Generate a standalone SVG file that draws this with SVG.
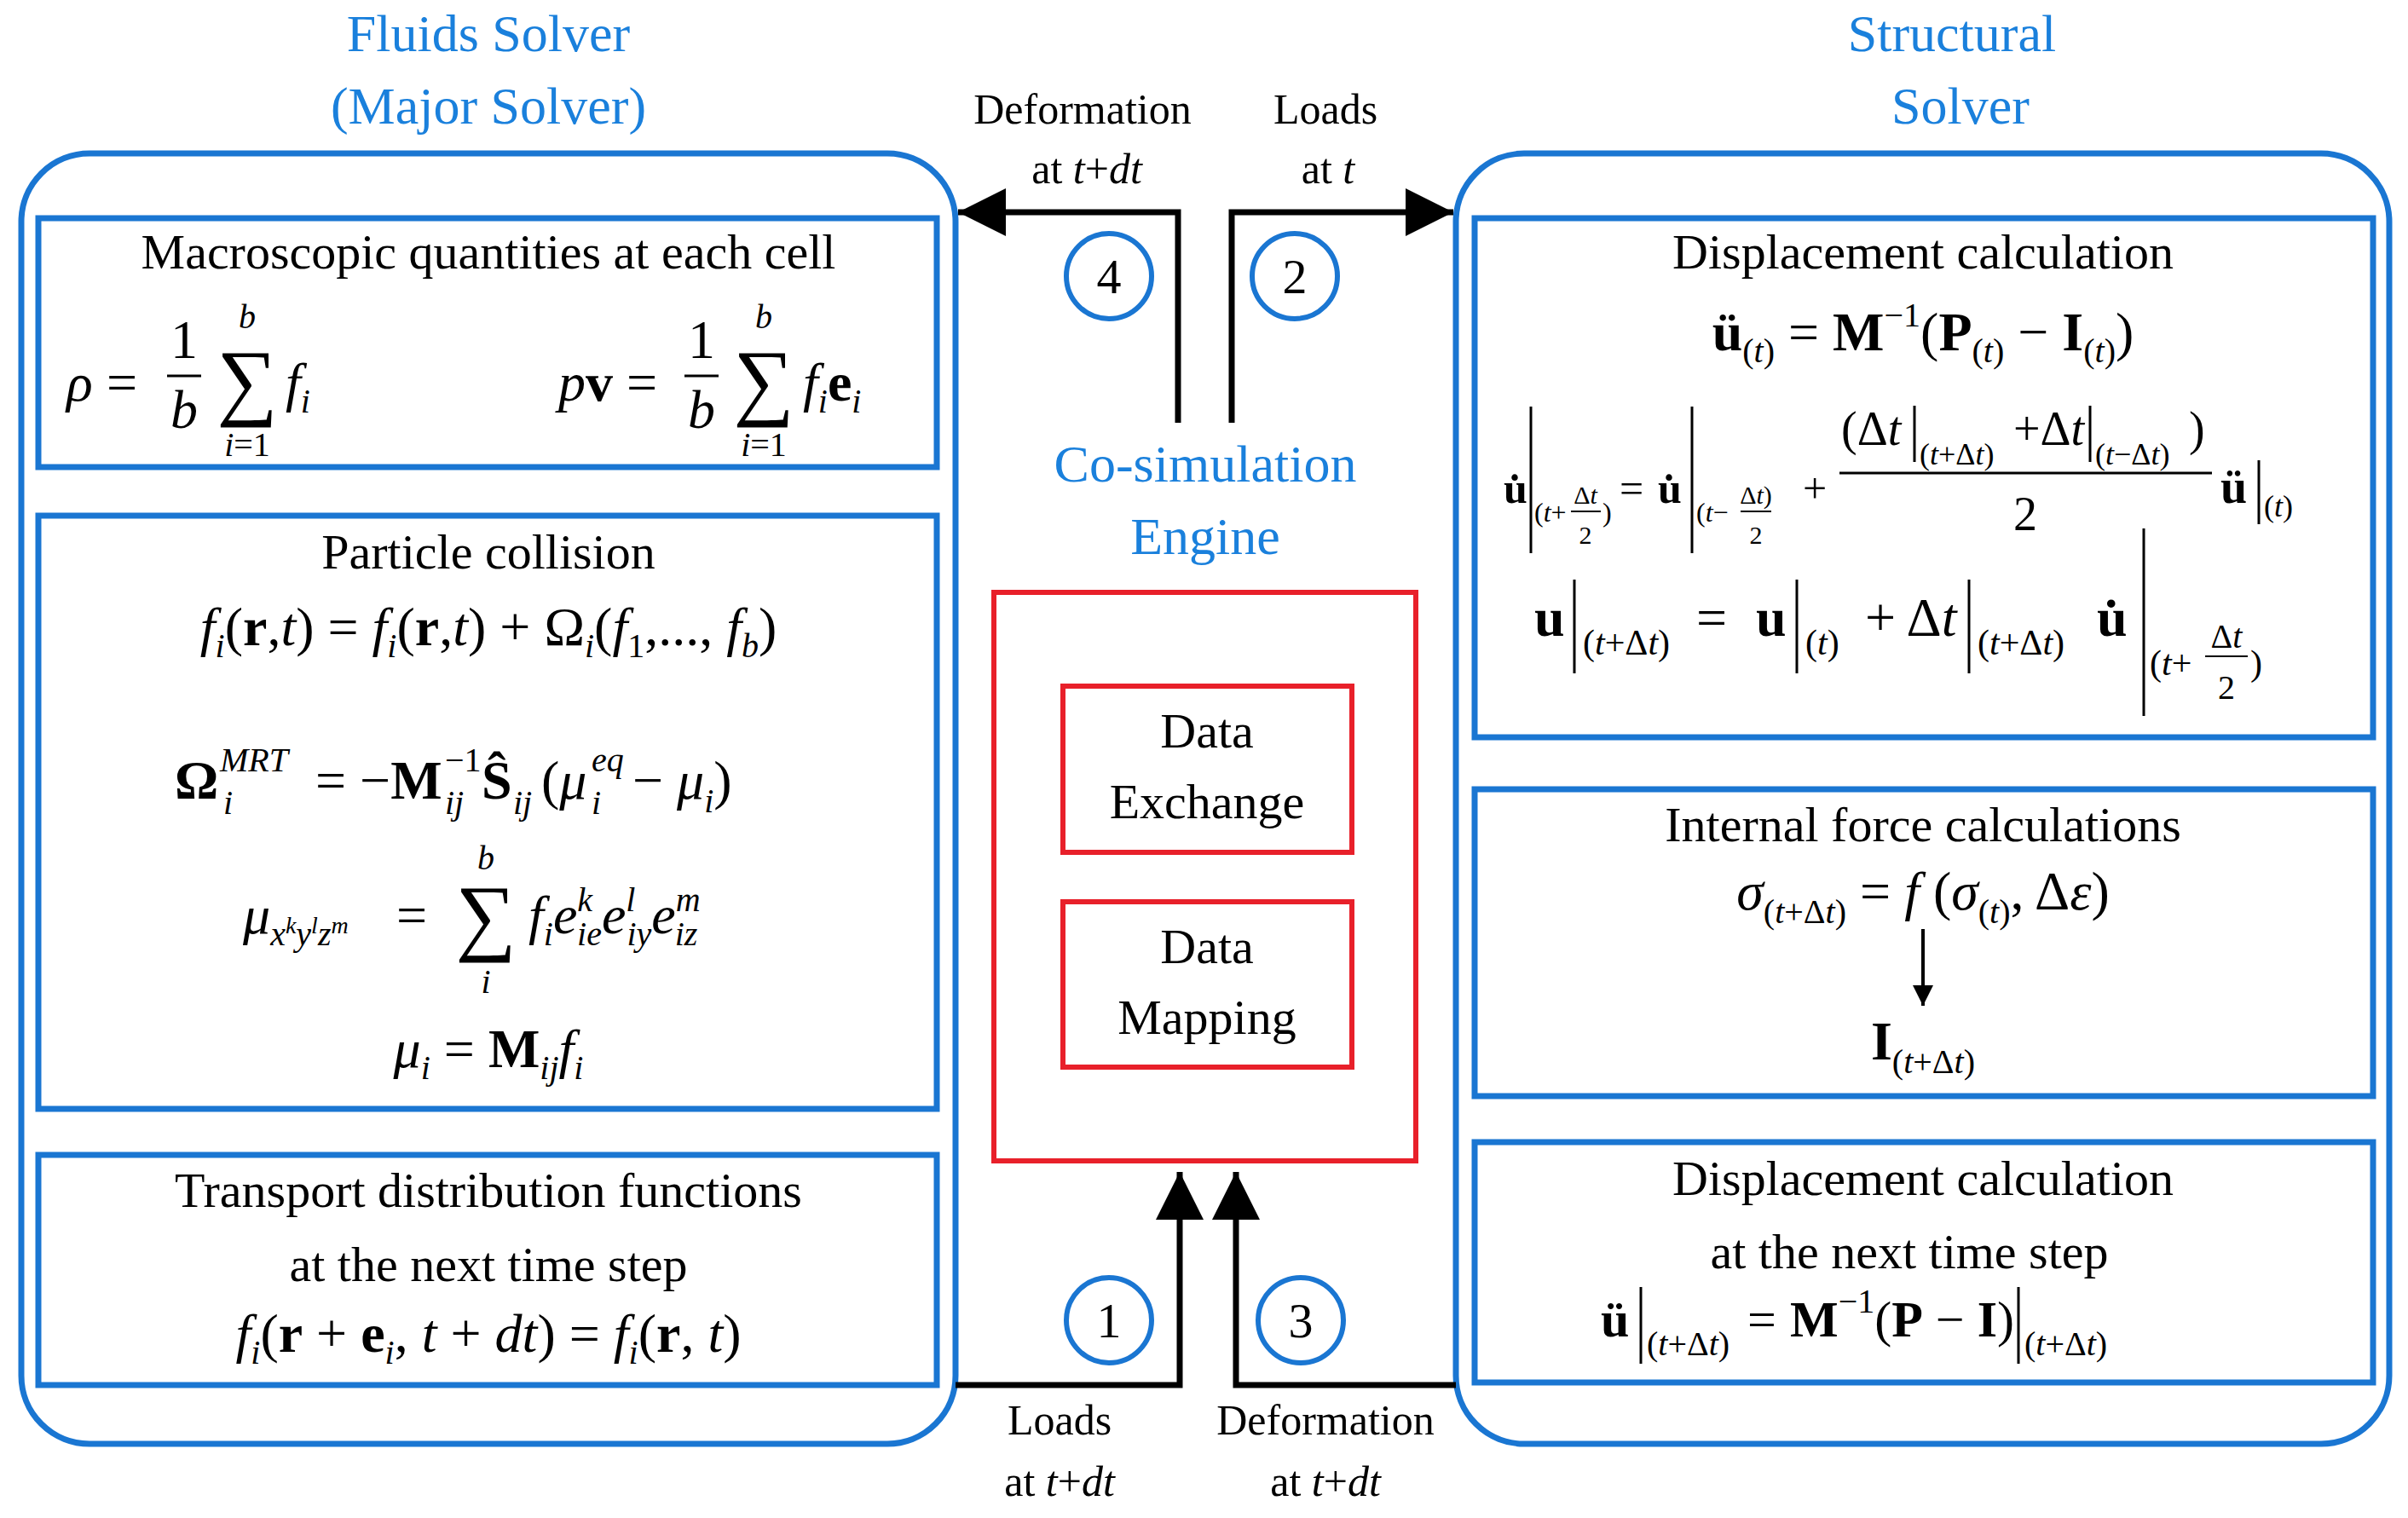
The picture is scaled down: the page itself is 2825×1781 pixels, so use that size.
<svg xmlns="http://www.w3.org/2000/svg" width="2825" height="1781" viewBox="0 0 2825 1781">
<defs>
<style>
.ttl{font-family:"Liberation Serif",serif;font-size:62px;fill:#1a80dc;text-anchor:middle}
.t{font-family:"Liberation Serif",serif;font-size:58px;fill:#000;text-anchor:middle}
.lb{font-family:"Liberation Serif",serif;font-size:50px;fill:#000;text-anchor:middle}
.m{font-family:"Liberation Serif",serif;font-size:64px;fill:#000}
.mc{font-family:"Liberation Serif",serif;font-size:64px;fill:#000;text-anchor:middle}
.s{font-size:40px}
.i{font-style:italic}
.b{font-weight:bold}
.outer{fill:none;stroke:#1a76d2;stroke-width:7}
.inner{fill:none;stroke:#1a76d2;stroke-width:7}
.red{fill:none;stroke:#e8202a;stroke-width:6}
.circ{fill:#fff;stroke:#1a76d2;stroke-width:6}
.wire{fill:none;stroke:#000;stroke-width:7}
.bar{stroke:#000;stroke-width:3}
</style>
<marker id="ah" viewBox="0 0 10 10" refX="10" refY="5" markerWidth="13" markerHeight="8" markerUnits="strokeWidth" orient="auto"><path d="M0,0 L10,5 L0,10 z" fill="#000"/></marker>
<marker id="ah2" viewBox="0 0 10 10" refX="10" refY="5" markerWidth="8" markerHeight="6" markerUnits="strokeWidth" orient="auto"><path d="M0,0 L10,5 L0,10 z" fill="#000"/></marker>
</defs>
<rect width="2825" height="1781" fill="#fff"/>

<text class="ttl" x="573" y="60">Fluids Solver</text>
<text class="ttl" x="573" y="145">(Major Solver)</text>
<text class="ttl" x="2290" y="60">Structural</text>
<text class="ttl" x="2300" y="145">Solver</text>
<text class="ttl" x="1414" y="565">Co-simulation</text>
<text class="ttl" x="1414" y="650">Engine</text>

<g id="fluids">
<rect class="outer" x="25" y="180" width="1096" height="1514" rx="80"/>
<g id="macro">
<rect class="inner" x="45" y="256" width="1054" height="292"/>
<text class="t" x="573" y="315">Macroscopic quantities at each cell</text>
<text class="m i" x="78" y="470">ρ</text><text class="m" x="125" y="470">=</text>
<text class="mc" x="216" y="420">1</text><line class="bar" x1="196" y1="441" x2="236" y2="441"/><text class="mc i" x="216" y="502">b</text>
<text class="mc" x="290" y="480" style="font-size:100px">∑</text>
<text class="mc i s" x="290" y="385">b</text><text class="mc s" x="290" y="535"><tspan class="i">i</tspan>=1</text>
<text class="m i" x="335" y="470">f<tspan class="s" dy="14">i</tspan></text>
<text class="m i" x="655" y="470">p<tspan class="b" font-style="normal">v</tspan></text><text class="m" x="735" y="470">=</text>
<text class="mc" x="823" y="420">1</text><line class="bar" x1="803" y1="441" x2="843" y2="441"/><text class="mc i" x="823" y="502">b</text>
<text class="mc" x="896" y="480" style="font-size:100px">∑</text>
<text class="mc i s" x="896" y="385">b</text><text class="mc s" x="896" y="535"><tspan class="i">i</tspan>=1</text>
<text class="m i" x="942" y="470">f<tspan class="s" dy="14">i</tspan><tspan class="b" font-style="normal" dy="-14">e</tspan><tspan class="s" dy="14">i</tspan></text>
</g>
<g id="collision">
<rect class="inner" x="45" y="605" width="1054" height="696"/>
<text class="t" x="573" y="667">Particle collision</text>
<text class="mc" x="573" y="757"><tspan class="i">f</tspan><tspan class="s i" dy="14">i</tspan><tspan dy="-14">(</tspan><tspan class="b">r</tspan>,<tspan class="i">t</tspan>) = <tspan class="i">f</tspan><tspan class="s i" dy="14">i</tspan><tspan dy="-14">(</tspan><tspan class="b">r</tspan>,<tspan class="i">t</tspan>) + Ω<tspan class="s i" dy="14">i</tspan><tspan dy="-14">(</tspan><tspan class="i">f</tspan><tspan class="s" dy="14">1</tspan><tspan dy="-14">,..., </tspan><tspan class="i">f</tspan><tspan class="s i" dy="14">b</tspan><tspan dy="-14">)</tspan></text>
<g style="font-family:'Liberation Serif',serif;fill:#000">
<text x="205" y="937" font-size="64" font-weight="bold">Ω</text>
<text x="258" y="905" font-size="40" font-style="italic">MRT</text>
<text x="262" y="955" font-size="40" font-style="italic">i</text>
<text x="370" y="937" font-size="64">= −<tspan font-weight="bold">M</tspan></text>
<text x="522" y="905" font-size="40">−1</text>
<text x="522" y="955" font-size="40" font-style="italic">ij</text>
<text x="565" y="937" font-size="64" font-weight="bold">Ŝ</text>
<text x="602" y="955" font-size="40" font-style="italic">ij</text>
<text x="635" y="937" font-size="64">(<tspan font-style="italic">μ</tspan></text>
<text x="694" y="905" font-size="40" font-style="italic">eq</text>
<text x="694" y="955" font-size="40" font-style="italic">i</text>
<text x="742" y="937" font-size="64">− <tspan font-style="italic">μ</tspan><tspan font-size="40" font-style="italic" dy="16">i</tspan><tspan dy="-16">)</tspan></text>
</g>
<text class="m i" x="285" y="1095">μ<tspan class="s" dy="14">x</tspan><tspan style="font-size:28px" dy="-14">k</tspan><tspan class="s" dy="14">y</tspan><tspan style="font-size:28px" dy="-14">l</tspan><tspan class="s" dy="14">z</tspan><tspan style="font-size:28px" dy="-14">m</tspan></text>
<text class="m" x="465" y="1095">=</text>
<text class="mc" x="570" y="1108" style="font-size:100px">∑</text>
<text class="mc i s" x="570" y="1020">b</text><text class="mc i s" x="570" y="1165">i</text>
<text class="m i" x="620" y="1095">f<tspan class="s" dy="14">i</tspan><tspan dy="-14">e</tspan><tspan class="s" dy="-26">k</tspan><tspan class="s" dx="-18" dy="40">ie</tspan><tspan dy="-14">e</tspan><tspan class="s" dy="-26">l</tspan><tspan class="s" dx="-10" dy="40">iy</tspan><tspan dy="-14">e</tspan><tspan class="s" dy="-26">m</tspan><tspan class="s" dx="-30" dy="40">iz</tspan></text>
<text class="mc" x="573" y="1252"><tspan class="i">μ</tspan><tspan class="s i" dy="14">i</tspan><tspan dy="-14"> = </tspan><tspan class="b">M</tspan><tspan class="s i" dy="14">ij</tspan><tspan class="i" dy="-14">f</tspan><tspan class="s i" dy="14">i</tspan></text>
</g>
<g id="transport">
<rect class="inner" x="45" y="1355" width="1054" height="270"/>
<text class="t" x="573" y="1416">Transport distribution functions</text>
<text class="t" x="573" y="1503">at the next time step</text>
<text class="mc" x="573" y="1586"><tspan class="i">f</tspan><tspan class="s i" dy="14">i</tspan><tspan dy="-14">(</tspan><tspan class="b">r</tspan> + <tspan class="b">e</tspan><tspan class="s i" dy="14">i</tspan><tspan dy="-14">, </tspan><tspan class="i">t</tspan> + <tspan class="i">dt</tspan>) = <tspan class="i">f</tspan><tspan class="s i" dy="14">i</tspan><tspan dy="-14">(</tspan><tspan class="b">r</tspan>, <tspan class="i">t</tspan>)</text>
</g>
</g>

<g id="structural">
<rect class="outer" x="1708" y="180" width="1095" height="1514" rx="80"/>
<g id="disp1">
<rect class="inner" x="1730" y="256" width="1054" height="609"/>
<text class="t" x="2256" y="315">Displacement calculation</text>
<text class="mc" x="2256" y="411"><tspan class="b">ü</tspan><tspan class="s" dy="14">(<tspan class="i">t</tspan>)</tspan><tspan dy="-14"> = </tspan><tspan class="b">M</tspan><tspan class="s" dy="-28">−1</tspan><tspan dy="28">(</tspan><tspan class="b">P</tspan><tspan class="s" dy="14">(<tspan class="i">t</tspan>)</tspan><tspan dy="-14"> − </tspan><tspan class="b">I</tspan><tspan class="s" dy="14">(<tspan class="i">t</tspan>)</tspan><tspan dy="-14">)</tspan></text>
<g style="font-family:'Liberation Serif',serif;fill:#000">
<text x="1764" y="590" font-size="50" font-weight="bold">u̇</text>
<line class="bar" x1="1796" y1="477" x2="1796" y2="649"/>
<text x="1800" y="612" font-size="32">(<tspan font-style="italic">t</tspan>+</text>
<text x="1860" y="591" font-size="30" text-anchor="middle">Δ<tspan font-style="italic">t</tspan></text>
<line class="bar" x1="1843" y1="600" x2="1878" y2="600" style="stroke-width:2"/>
<text x="1860" y="638" font-size="30" text-anchor="middle">2</text>
<text x="1880" y="612" font-size="32">)</text>
<text x="1900" y="590" font-size="50">=</text>
<text x="1945" y="590" font-size="50" font-weight="bold">u̇</text>
<line class="bar" x1="1985" y1="477" x2="1985" y2="649"/>
<text x="1990" y="612" font-size="32">(<tspan font-style="italic">t</tspan>−</text>
<text x="2060" y="591" font-size="30" text-anchor="middle">Δ<tspan font-style="italic">t</tspan>)</text>
<line class="bar" x1="2042" y1="600" x2="2078" y2="600" style="stroke-width:2"/>
<text x="2060" y="638" font-size="30" text-anchor="middle">2</text>
<text x="2115" y="590" font-size="50">+</text>
<text x="2160" y="522" font-size="56">(Δ<tspan font-style="italic">t</tspan></text>
<line class="bar" x1="2246" y1="476" x2="2246" y2="542"/>
<text x="2252" y="545" font-size="36">(<tspan font-style="italic">t</tspan>+Δ<tspan font-style="italic">t</tspan>)</text>
<text x="2362" y="522" font-size="56">+Δ<tspan font-style="italic">t</tspan></text>
<line class="bar" x1="2452" y1="476" x2="2452" y2="542"/>
<text x="2458" y="545" font-size="36">(<tspan font-style="italic">t</tspan>−Δ<tspan font-style="italic">t</tspan>)</text>
<text x="2568" y="522" font-size="56">)</text>
<line class="bar" x1="2158" y1="555" x2="2595" y2="555"/>
<text x="2376" y="622" font-size="56" text-anchor="middle">2</text>
<text x="2605" y="590" font-size="56" font-weight="bold">ü</text>
<line class="bar" x1="2650" y1="540" x2="2650" y2="615"/>
<text x="2656" y="606" font-size="36">(<tspan font-style="italic">t</tspan>)</text>
<text x="1800" y="746" font-size="64" font-weight="bold">u</text>
<line class="bar" x1="1847" y1="680" x2="1847" y2="790"/>
<text x="1857" y="768" font-size="42">(<tspan font-style="italic">t</tspan>+Δ<tspan font-style="italic">t</tspan>)</text>
<text x="1990" y="746" font-size="64">=</text>
<text x="2060" y="746" font-size="64" font-weight="bold">u</text>
<line class="bar" x1="2108" y1="680" x2="2108" y2="790"/>
<text x="2118" y="768" font-size="42">(<tspan font-style="italic">t</tspan>)</text>
<text x="2188" y="746" font-size="64">+ Δ<tspan font-style="italic">t</tspan></text>
<line class="bar" x1="2310" y1="680" x2="2310" y2="790"/>
<text x="2320" y="768" font-size="42">(<tspan font-style="italic">t</tspan>+Δ<tspan font-style="italic">t</tspan>)</text>
<text x="2460" y="746" font-size="64" font-weight="bold">u̇</text>
<line class="bar" x1="2515" y1="620" x2="2515" y2="840"/>
<text x="2522" y="792" font-size="42">(<tspan font-style="italic">t</tspan>+</text>
<text x="2612" y="760" font-size="40" text-anchor="middle">Δ<tspan font-style="italic">t</tspan></text>
<line class="bar" x1="2587" y1="770" x2="2637" y2="770" style="stroke-width:2"/>
<text x="2612" y="820" font-size="40" text-anchor="middle">2</text>
<text x="2640" y="792" font-size="42">)</text>
</g>
</g>
<g id="internal">
<rect class="inner" x="1730" y="926" width="1054" height="360"/>
<text class="t" x="2256" y="987">Internal force calculations</text>
<text class="mc" x="2256" y="1067"><tspan class="i">σ</tspan><tspan class="s" dy="16">(<tspan class="i">t</tspan>+Δ<tspan class="i">t</tspan>)</tspan><tspan dy="-16"> = </tspan><tspan class="i">f</tspan> (<tspan class="i">σ</tspan><tspan class="s" dy="16">(<tspan class="i">t</tspan>)</tspan><tspan dy="-16">, Δ</tspan><tspan class="i">ε</tspan>)</text>
<line x1="2256" y1="1090" x2="2256" y2="1180" stroke="#000" stroke-width="4" marker-end="url(#ah2)"/>
<text class="mc" x="2256" y="1243"><tspan class="b">I</tspan><tspan class="s" dy="16">(<tspan class="i">t</tspan>+Δ<tspan class="i">t</tspan>)</tspan></text>
</g>
<g id="disp2">
<rect class="inner" x="1730" y="1340" width="1054" height="282"/>
<text class="t" x="2256" y="1402">Displacement calculation</text>
<text class="t" x="2240" y="1488">at the next time step</text>
<g style="font-family:'Liberation Serif',serif;fill:#000">
<text x="1878" y="1568" font-size="60" font-weight="bold">ü</text>
<line class="bar" x1="1925" y1="1510" x2="1925" y2="1600"/>
<text x="1932" y="1590" font-size="40">(<tspan font-style="italic">t</tspan>+Δ<tspan font-style="italic">t</tspan>)</text>
<text x="2050" y="1568" font-size="60">=</text>
<text x="2100" y="1568" font-size="60"><tspan font-weight="bold">M</tspan><tspan font-size="40" dy="-28">−1</tspan><tspan dy="28">(</tspan><tspan font-weight="bold">P</tspan> − <tspan font-weight="bold">I</tspan>)</text>
<line class="bar" x1="2368" y1="1510" x2="2368" y2="1600"/>
<text x="2375" y="1590" font-size="40">(<tspan font-style="italic">t</tspan>+Δ<tspan font-style="italic">t</tspan>)</text>
</g>
</g>
</g>

<g id="engine">
<rect class="red" x="1166" y="695" width="495" height="667"/>
<g id="exchange"><rect class="red" x="1247" y="805" width="339" height="195"/>
<text class="t" x="1416" y="877">Data</text><text class="t" x="1416" y="960">Exchange</text></g>
<g id="mapping"><rect class="red" x="1247" y="1058" width="339" height="194"/>
<text class="t" x="1416" y="1130">Data</text><text class="t" x="1416" y="1213">Mapping</text></g>
</g>

<g id="connectors">
<path class="wire" d="M1382,496 V249 H1124" marker-end="url(#ah)"/>
<path class="wire" d="M1445,496 V249 H1705" marker-end="url(#ah)"/>
<path class="wire" d="M1121,1625 H1384 V1375" marker-end="url(#ah)"/>
<path class="wire" d="M1708,1625 H1450 V1375" marker-end="url(#ah)"/>
<circle class="circ" cx="1301" cy="324" r="50"/><text class="t" x="1301" y="344">4</text>
<circle class="circ" cx="1519" cy="324" r="50"/><text class="t" x="1519" y="344">2</text>
<circle class="circ" cx="1301" cy="1549" r="50"/><text class="t" x="1301" y="1569">1</text>
<circle class="circ" cx="1526" cy="1549" r="50"/><text class="t" x="1526" y="1569">3</text>
<text class="lb" x="1270" y="145">Deformation</text>
<text class="lb" x="1275" y="215">at <tspan class="i">t</tspan>+<tspan class="i">dt</tspan></text>
<text class="lb" x="1555" y="145">Loads</text>
<text class="lb" x="1558" y="215">at <tspan class="i">t</tspan></text>
<text class="lb" x="1243" y="1683">Loads</text>
<text class="lb" x="1243" y="1755">at <tspan class="i">t</tspan>+<tspan class="i">dt</tspan></text>
<text class="lb" x="1555" y="1683">Deformation</text>
<text class="lb" x="1555" y="1755">at <tspan class="i">t</tspan>+<tspan class="i">dt</tspan></text>
</g>
</svg>
